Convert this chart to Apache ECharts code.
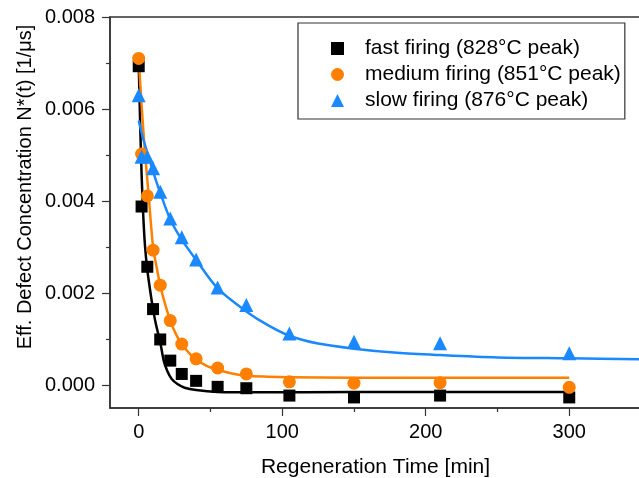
<!DOCTYPE html>
<html>
<head>
<meta charset="utf-8">
<script src="https://cdn.jsdelivr.net/npm/echarts@6/dist/echarts.min.js"></script>
<style>
html,body{margin:0;padding:0;background:#fff;}
#chart{width:639px;height:478px;}
</style>
</head>
<body>
<div id="chart"></div>
<script>
// ---- data ----
var times = [0, 2, 6, 10, 15, 22, 30, 40, 55, 75, 105, 150, 210, 300];
var fastVals   = [0.00693, 0.00388, 0.00257, 0.00165, 0.00099, 0.00053, 0.00024, 0.00009, -0.00004, -0.00007, -0.00023, -0.00027, -0.00023, -0.00027];
var mediumVals = [0.00710, 0.00502, 0.00411, 0.00293, 0.00217, 0.00140, 0.00089, 0.00057, 0.00037, 0.00024, 0.00007, 0.00004, 0.00005, -0.00005];
var slowVals   = [0.00630, 0.00496, 0.00496, 0.00471, 0.00420, 0.00362, 0.00321, 0.00273, 0.00212, 0.00174, 0.00112, 0.00094, 0.00091, 0.00069];

// fitted curves
var fitFastT = [0, 1, 2, 3, 4, 5, 6, 8, 10, 12, 15, 17.5, 20, 23, 27, 32, 40, 55, 80, 150, 300];
var fitFastV = [0.0070, 0.0057, 0.0046, 0.0038, 0.0032, 0.0028, 0.0025, 0.00205, 0.00165, 0.00132, 0.00093, 0.00052, 0.0003, 0.00013, 0.00002, -0.00006, -0.00011, -0.00015, -0.00016, -0.00015, -0.00015];
var fitMediumT = [0, 2, 4, 7, 10, 12.5, 15, 18, 22, 26, 30, 35, 40, 47, 55, 65, 75, 90, 105, 150, 300];
var fitMediumV = [0.0071, 0.0061, 0.0052, 0.0041, 0.0030, 0.00256, 0.00217, 0.0018, 0.0014, 0.0011, 0.00089, 0.0007, 0.00056, 0.00042, 0.00033, 0.00025, 0.0002, 0.00018, 0.00017, 0.00016, 0.00016];
var fitSlowT = [0, 3, 6.5, 10, 15, 22, 30, 40, 55, 75, 90, 105, 125, 150, 180, 210, 250, 300, 350];
var fitSlowV = [0.00575, 0.00537, 0.0050, 0.00464, 0.00418, 0.0036, 0.00316, 0.00272, 0.0021, 0.0016, 0.0013, 0.00107, 0.0009, 0.00079, 0.0007, 0.00065, 0.0006, 0.00058, 0.00056];

var seriesNames = ['fast firing (828°C peak)', 'medium firing (851°C peak)', 'slow firing (876°C peak)'];
var xLabelValues = [0, 100, 200, 300];
var xMinorValues = [50, 150, 250];
var yLabelValues = [0, 0.002, 0.004, 0.006, 0.008];
var yMinorValues = [0.001, 0.003, 0.005, 0.007];
var xTitle = 'Regeneration Time [min]';
var yTitle = 'Eff. Defect Concentration N*(t) [1/μs]';

function zip(a, b) { return a.map(function (v, i) { return [v, b[i]]; }); }

var FONT = '"Liberation Sans", Arial, sans-serif';
var BLACK = '#000000', ORANGE = '#ff8000', BLUE = '#1a88ff';
var AX = '#333333';

var chart = echarts.init(document.getElementById('chart'), null, {renderer: 'canvas'});
var option = {
  animation: false,
  backgroundColor: '#ffffff',
  textStyle: {fontFamily: FONT},
  grid: {left: 110, top: 17, width: 531, height: 391, show: true, borderColor: AX, borderWidth: 1.5,
    containLabel: false, outerBoundsMode: 'none'},
  xAxis: [{
    type: 'value', min: -20, max: 350, position: 'bottom',
    axisLine: {show: true, onZero: false, lineStyle: {color: AX, width: 1.5}},
    axisTick: {show: true, inside: false, length: 8, customValues: xLabelValues, lineStyle: {color: AX, width: 1.2}},
    axisLabel: {show: true, customValues: xLabelValues, fontSize: 20, color: '#000', margin: 14, fontFamily: FONT},
    splitLine: {show: false},
    name: xTitle, nameLocation: 'middle', nameGap: 49,
    nameTextStyle: {fontSize: 21, color: '#000', fontFamily: FONT}
  }, {
    type: 'value', min: -20, max: 350, position: 'bottom',
    axisLine: {show: false, onZero: false},
    axisTick: {show: true, inside: false, length: 4, customValues: xMinorValues, lineStyle: {color: AX, width: 1.2}},
    axisLabel: {show: false},
    splitLine: {show: false}
  }],
  yAxis: [{
    type: 'value', min: -0.0005, max: 0.008, position: 'left',
    axisLine: {show: true, onZero: false, lineStyle: {color: AX, width: 1.5}},
    axisTick: {show: true, inside: false, length: 8, customValues: yLabelValues, lineStyle: {color: AX, width: 1.2}},
    axisLabel: {show: true, customValues: yLabelValues, fontSize: 20, color: '#000', margin: 15, fontFamily: FONT,
      formatter: function (v) { return (Math.abs(v) < 1e-12 ? 0 : v).toFixed(3); }},
    splitLine: {show: false}
  }, {
    type: 'value', min: -0.0005, max: 0.008, position: 'left',
    axisLine: {show: false, onZero: false},
    axisTick: {show: true, inside: false, length: 4, customValues: yMinorValues, lineStyle: {color: AX, width: 1.2}},
    axisLabel: {show: false},
    splitLine: {show: false}
  }],
  legend: {
    data: seriesNames,
    orient: 'vertical', left: 298, top: 23,
    padding: [15, 4, 8, 33],
    itemGap: 5, itemWidth: 13, itemHeight: 13,
    borderColor: AX, borderWidth: 1.2, backgroundColor: '#fff',
    textStyle: {fontSize: 21, color: '#000', fontFamily: FONT, lineHeight: 21, padding: [0, 0, 0, 16]}
  },
  graphic: [{
    type: 'text', x: 25, y: 187, rotation: Math.PI / 2,
    style: {text: yTitle, font: '20px ' + FONT, fill: '#000', align: 'center', verticalAlign: 'middle'}
  }],
  series: [
    {name: 'fit fast', type: 'line', data: zip(fitFastT, fitFastV), showSymbol: false, smooth: 0.3,
      lineStyle: {color: BLACK, width: 2.5}, itemStyle: {color: BLACK}, z: 2, silent: true},
    {name: 'fit medium', type: 'line', data: zip(fitMediumT, fitMediumV), showSymbol: false, smooth: 0.3,
      lineStyle: {color: ORANGE, width: 2.5}, itemStyle: {color: ORANGE}, z: 2, silent: true},
    {name: 'fit slow', type: 'line', data: zip(fitSlowT, fitSlowV), showSymbol: false, smooth: 0.3,
      lineStyle: {color: BLUE, width: 2.5}, itemStyle: {color: BLUE}, z: 2, silent: true},
    {name: seriesNames[0], type: 'scatter', data: zip(times, fastVals), symbol: 'rect', symbolSize: 12,
      itemStyle: {color: BLACK, opacity: 1}, z: 3},
    {name: seriesNames[1], type: 'scatter', data: zip(times, mediumVals), symbol: 'circle', symbolSize: 13,
      itemStyle: {color: ORANGE, opacity: 1}, z: 4},
    {name: seriesNames[2], type: 'scatter', data: zip(times, slowVals), symbol: 'triangle', symbolSize: 14,
      itemStyle: {color: BLUE, opacity: 1}, z: 5}
  ]
};
chart.setOption(option);
</script>
</body>
</html>
